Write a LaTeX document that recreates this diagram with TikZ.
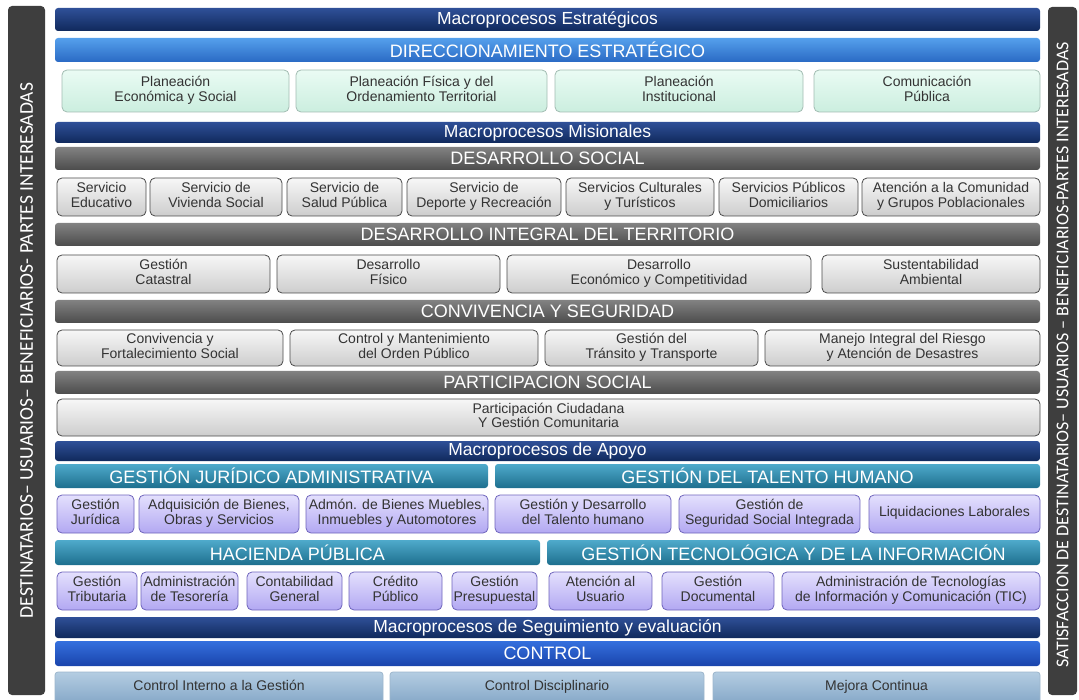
\documentclass[tikz,border=0pt]{standalone}
\usepackage{fontspec}
\setmainfont{Liberation Sans}
\newfontfamily\sidefont{Carlito}
\definecolor{navytop}{HTML}{2F5098}
\definecolor{navybot}{HTML}{10295C}
\definecolor{skytop}{HTML}{55A0EC}
\definecolor{skybot}{HTML}{2A6AC4}
\definecolor{ctrltop}{HTML}{3470DE}
\definecolor{ctrlbot}{HTML}{1A44AC}
\definecolor{greytop}{HTML}{828282}
\definecolor{greybot}{HTML}{4C4C4C}
\definecolor{tealtop}{HTML}{4FAACB}
\definecolor{tealbot}{HTML}{1D6F8E}
\definecolor{minttop}{HTML}{EAFBF4}
\definecolor{mintbot}{HTML}{CBEEDF}
\definecolor{mintline}{HTML}{A2BCB2}
\definecolor{boxtop}{HTML}{F7F7F7}
\definecolor{boxbot}{HTML}{CDCDCD}
\definecolor{boxline}{HTML}{4A4A4A}
\definecolor{lavtop}{HTML}{E4E0FD}
\definecolor{lavbot}{HTML}{B2A8F2}
\definecolor{lavline}{HTML}{6E64BC}
\definecolor{steeltop}{HTML}{B4CDE2}
\definecolor{steelbot}{HTML}{86A8C8}
\definecolor{steelline}{HTML}{9DB6CC}
\definecolor{sidebg}{HTML}{3E3E3E}
\definecolor{boxtext}{HTML}{333333}
\tikzset{
  cell/.style args={#1/#2/#3/#4}{at={({(#1+#3)/2},{(#2+#4)/2})},
    minimum width={#3-#1}, minimum height={#4-#2}},
  hdr/.style={inner sep=0pt, rounded corners=3pt, text=white, font=\fontsize{18}{18}\selectfont},
  navy/.style={hdr, top color=navytop, bottom color=navybot, font=\fontsize{17.5}{18}\selectfont},
  sky/.style={hdr, top color=skytop, bottom color=skybot},
  ctrl/.style={hdr, top color=ctrltop, bottom color=ctrlbot},
  grey/.style={hdr, top color=greytop, bottom color=greybot},
  teal/.style={hdr, top color=tealtop, bottom color=tealbot},
  box/.style={inner sep=0pt, rounded corners=5pt, align=center, text=boxtext, line width=0.8pt,
    font=\fontsize{14}{14.5}\selectfont, execute at begin node=\strut, execute at end node=\strut},
  mint/.style={box, draw=mintline, top color=minttop, bottom color=mintbot},
  gbox/.style={box, draw=boxline, top color=boxtop, bottom color=boxbot},
  lav/.style={box, draw=lavline, top color=lavtop, bottom color=lavbot},
  steel/.style={box, draw=steelline, top color=steeltop, bottom color=steelbot, rounded corners=3pt},
  side/.style={inner sep=0pt, rounded corners=4pt, fill=sidebg},
  sidetext/.style={rotate=90, text=white},
}
\begin{document}
\begin{tikzpicture}[x=1pt, y=-1pt]
  \useasboundingbox (0,0) rectangle (1079,700);

  % side bars
  \node[side, cell=8/6/45/695] (lside) {};
  \node[sidetext, font=\sidefont\fontsize{19.5}{20}\selectfont] (ltext) at (lside.center)
    {DESTINATARIOS– USUARIOS– BENEFICIARIOS- PARTES INTERESADAS};
  \node[side, cell=1048/7/1077/695] (rside) {};
  \node[sidetext, font=\sidefont\fontsize{18}{18}\selectfont] (rtext) at (1062.5,355)
    {SATISFACCION DE DESTINATARIOS– USUARIOS – BENEFICIARIOS-PARTES INTERESADAS};

  % estrategicos
  \node[navy, cell=55/8/1040/31] (estr) {Macroprocesos Estratégicos};
  \node[sky, cell=55/38/1040/62] (direc) {DIRECCIONAMIENTO ESTRATÉGICO};
  \node[mint, cell=62/70/289/112] (planeco) {Planeación\\Económica y Social};
  \node[mint, cell=296/70/547/112] (planfis) {Planeación Física y del\\Ordenamiento Territorial};
  \node[mint, cell=555/70/803/112] (planins) {Planeación\\Institucional};
  \node[mint, cell=814/70/1040/112] (comun) {Comunicación\\Pública};

  % misionales
  \node[navy, cell=55/122/1040/143] (mision) {Macroprocesos Misionales};
  \node[grey, cell=55/147/1040/170] (dsocial) {DESARROLLO SOCIAL};
  \node[gbox, cell=57/178/146/216] (educ) {Servicio\\Educativo};
  \node[gbox, cell=150/178/282/216] (vivi) {Servicio de\\Vivienda Social};
  \node[gbox, cell=287/178/402/216] (salud) {Servicio de\\Salud Pública};
  \node[gbox, cell=407/178/561/216] (depor) {Servicio de\\Deporte y Recreación};
  \node[gbox, cell=566/178/714/216] (cultu) {Servicios Culturales\\y Turísticos};
  \node[gbox, cell=719/178/858/216] (domic) {Servicios Públicos\\Domiciliarios};
  \node[gbox, cell=862/178/1040/216] (comu) {Atención a la Comunidad\\y Grupos Poblacionales};

  \node[grey, cell=55/223/1040/246] (dterr) {DESARROLLO INTEGRAL DEL TERRITORIO};
  \node[gbox, cell=57/255/270/293] (catas) {Gestión\\Catastral};
  \node[gbox, cell=277/255/500/293] (fisico) {Desarrollo\\Físico};
  \node[gbox, cell=507/255/811/293] (econ) {Desarrollo\\Económico y Competitividad};
  \node[gbox, cell=822/255/1040/293] (ambi) {Sustentabilidad\\Ambiental};

  \node[grey, cell=55/300/1040/323] (conviv) {CONVIVENCIA Y SEGURIDAD};
  \node[gbox, cell=57/330/283/366] (fortal) {Convivencia y\\Fortalecimiento Social};
  \node[gbox, cell=290/330/538/366] (orden) {Control y Mantenimiento\\del Orden Público};
  \node[gbox, cell=545/330/758/366] (trans) {Gestión del\\Tránsito y Transporte};
  \node[gbox, cell=765/330/1040/366] (riesgo) {Manejo Integral del Riesgo\\y Atención de Desastres};

  \node[grey, cell=55/371/1040/394] (partic) {PARTICIPACION SOCIAL};
  \node[gbox, cell=57/399/1040/436] (ciuda) {Participación Ciudadana\\Y Gestión Comunitaria};

  % apoyo
  \node[navy, cell=55/441/1040/461] (apoyo) {Macroprocesos de Apoyo};
  \node[teal, cell=55/464/488/488] (jurid) {GESTIÓN JURÍDICO ADMINISTRATIVA};
  \node[teal, cell=495/464/1040/488] (talen) {GESTIÓN DEL TALENTO HUMANO};
  \node[lav, cell=57/495/134/533] (gjur) {Gestión\\Jurídica};
  \node[lav, cell=139/495/299/533] (adqui) {Adquisición de Bienes,\\Obras y Servicios};
  \node[lav, cell=306/495/488/533] (admon) {Admón. de Bienes Muebles,\\Inmuebles y Automotores};
  \node[lav, cell=495/495/671/533] (gtal) {Gestión y Desarrollo\\del Talento humano};
  \node[lav, cell=679/495/860/533] (segur) {Gestión de\\Seguridad Social Integrada};
  \node[lav, cell=869/495/1040/533] (liqui) {Liquidaciones Laborales};

  \node[teal, cell=55/540/540/565] (hacie) {HACIENDA PÚBLICA};
  \node[teal, cell=547/540/1040/565] (tecno) {GESTIÓN TECNOLÓGICA Y DE LA INFORMACIÓN};
  \node[lav, cell=57/572/137/610] (tribu) {Gestión\\Tributaria};
  \node[lav, cell=141/572/238/610] (tesor) {Administración\\de Tesorería};
  \node[lav, cell=247/572/342/610] (conta) {Contabilidad\\General};
  \node[lav, cell=349/572/442/610] (credi) {Crédito\\Público};
  \node[lav, cell=452/572/537/610] (presu) {Gestión\\Presupuestal};
  \node[lav, cell=549/572/652/610] (usuar) {Atención al\\Usuario};
  \node[lav, cell=662/572/774/610] (docum) {Gestión\\Documental};
  \node[lav, cell=782/572/1040/610] (tic) {Administración de Tecnologías\\de Información y Comunicación (TIC)};

  % seguimiento
  \node[navy, cell=55/617/1040/638] (segui) {Macroprocesos de Seguimiento y evaluación};
  \node[ctrl, cell=55/641/1040/666] (control) {CONTROL};
  \node[steel, cell=55/672/383/703] (cinter) {Control Interno a la Gestión};
  \node[steel, cell=390/672/704/703] (cdisc) {Control Disciplinario};
  \node[steel, cell=713/672/1040/703] (mejora) {Mejora Continua};
\end{tikzpicture}
\end{document}
